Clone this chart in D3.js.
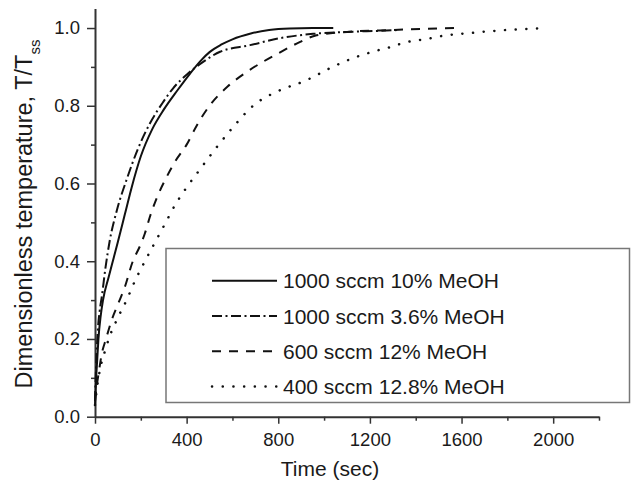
<!DOCTYPE html>
<html>
<head>
<meta charset="utf-8">
<script src="https://cdn.jsdelivr.net/npm/d3@7"></script>
<style>
  body { margin: 0; background: #fff; }
  svg text { font-family: "Liberation Sans", Arial, sans-serif; fill: #1a1a1a; }
</style>
</head>
<body>
<div id="chart"></div>
<script>
// Dimensionless temperature T/Tss vs time (sec)
const solidT = [0, 5, 10, 15, 25, 35, 60, 100, 130, 160, 200, 250, 300, 360, 415, 460, 500, 550, 600, 680, 760, 850, 950, 1040];
const solidV = [0.03, 0.10, 0.15, 0.20, 0.26, 0.30, 0.36, 0.45, 0.52, 0.59, 0.67, 0.74, 0.79, 0.84, 0.883, 0.915, 0.938, 0.957, 0.971, 0.986, 0.995, 0.999, 1.0, 1.0];

const dashDotT = [0, 3, 7, 12, 20, 30, 45, 65, 95, 138, 188, 240, 298, 341, 400, 472, 546, 677, 808, 952, 1100, 1250, 1330];
const dashDotV = [0.04, 0.10, 0.16, 0.22, 0.27, 0.31, 0.38, 0.455, 0.53, 0.61, 0.69, 0.755, 0.81, 0.845, 0.88, 0.913, 0.939, 0.956, 0.974, 0.985, 0.99, 0.993, 0.995];

const dashedT = [0, 8, 18, 29, 48, 73, 102, 131, 165, 197, 218, 240, 269, 306, 349, 400, 445, 500, 580, 670, 800, 880, 960, 1100, 1300, 1450, 1580];
const dashedV = [0.04, 0.08, 0.12, 0.16, 0.20, 0.249, 0.292, 0.335, 0.40, 0.44, 0.472, 0.515, 0.562, 0.609, 0.656, 0.70, 0.75, 0.80, 0.85, 0.89, 0.935, 0.96, 0.98, 0.99, 0.995, 0.998, 1.0];

const dottedT = [0, 10, 25, 44, 60, 100, 138, 175, 218, 254, 300, 350, 400, 450, 488, 540, 610, 690, 800, 924, 968, 1016, 1063, 1111, 1157, 1201, 1249, 1296, 1342, 1390, 1449, 1499, 1546, 1594, 1638, 1686, 1732, 1776, 1822, 1870, 1930];
const dottedV = [0.03, 0.08, 0.13, 0.17, 0.20, 0.255, 0.30, 0.35, 0.40, 0.44, 0.49, 0.545, 0.59, 0.63, 0.66, 0.70, 0.75, 0.80, 0.838, 0.866, 0.879, 0.894, 0.907, 0.919, 0.929, 0.937, 0.945, 0.952, 0.961, 0.967, 0.972, 0.978, 0.982, 0.985, 0.987, 0.99, 0.992, 0.994, 0.996, 0.997, 0.999];

const seriesNames = ["1000 sccm 10% MeOH", "1000 sccm 3.6% MeOH", "600 sccm 12% MeOH", "400 sccm 12.8% MeOH"];
const xMajorTicks = [0, 400, 800, 1200, 1600, 2000];
const yMajorTicks = [0, 0.2, 0.4, 0.6, 0.8, 1.0];

const width = 631, height = 482;
const svg = d3.select("#chart").append("svg").attr("width", width).attr("height", height);

const x = d3.scaleLinear().domain([0, 2200]).range([95, 599]);
const y = d3.scaleLinear().domain([0, 1.05]).range([416.7, 8.6]);

const styles = [
  { dash: null, width: 2, cap: "butt" },
  { dash: "10,3.5,2,3.5", width: 2, cap: "butt" },
  { dash: "9,8", width: 2, cap: "butt" },
  { dash: "0.1,10.6", width: 2.5, cap: "round" }
];

const series = [
  d3.zip(solidT, solidV),
  d3.zip(dashDotT, dashDotV),
  d3.zip(dashedT, dashedV),
  d3.zip(dottedT, dottedV)
];

// axes
const axisColor = "#333";
const xAxis = svg.append("g").attr("transform", `translate(0,${y(0)})`)
  .call(d3.axisBottom(x).tickValues(xMajorTicks).tickSize(7).tickSizeOuter(0).tickFormat(d3.format("d")));
svg.append("g").attr("transform", `translate(0,${y(0)})`)
  .call(d3.axisBottom(x).tickValues(d3.range(200, 2201, 400)).tickSize(4).tickFormat(""))
  .call(g => g.select(".domain").remove());

const yAxis = svg.append("g").attr("transform", `translate(${x(0)},0)`)
  .call(d3.axisLeft(y).tickValues(yMajorTicks).tickSize(8).tickSizeOuter(0).tickFormat(d3.format(".1f")));
svg.append("g").attr("transform", `translate(${x(0)},0)`)
  .call(d3.axisLeft(y).tickValues([0.1, 0.3, 0.5, 0.7, 0.9]).tickSize(4).tickFormat(""))
  .call(g => g.select(".domain").remove());

svg.selectAll(".domain").attr("stroke", axisColor).attr("stroke-width", 2);
svg.selectAll(".tick line").attr("stroke", axisColor).attr("stroke-width", 1.5);
xAxis.selectAll(".tick text").style("font-size", "18.5px").attr("dy", "1.05em");
yAxis.selectAll(".tick text").style("font-size", "18.5px").attr("x", -15);

// axis titles
svg.append("text")
  .attr("x", 330).attr("y", 476)
  .attr("text-anchor", "middle")
  .style("font-size", "21px")
  .text("Time (sec)");

const yTitle = svg.append("text")
  .attr("transform", "translate(32,214) rotate(-90)")
  .attr("text-anchor", "middle")
  .style("font-size", "23.5px");
yTitle.append("tspan").text("Dimensionless temperature, T/T");
yTitle.append("tspan").attr("dy", 8).style("font-size", "15px").text("ss");

// curves
const line = d3.line().x(d => x(d[0])).y(d => y(d[1])).curve(d3.curveMonotoneX);
series.forEach((s, i) => {
  svg.append("path")
    .datum(s)
    .attr("d", line)
    .attr("fill", "none")
    .attr("stroke", "#111")
    .attr("stroke-width", styles[i].width)
    .attr("stroke-linecap", styles[i].cap)
    .attr("stroke-dasharray", styles[i].dash);
});

// legend
const legend = svg.append("g");
legend.append("rect")
  .attr("x", 166).attr("y", 248.5).attr("width", 463.5).attr("height", 154)
  .attr("fill", "#fff").attr("stroke", "#777").attr("stroke-width", 1.5);

seriesNames.forEach((name, i) => {
  const ly = 280.7 + i * 35.3;
  legend.append("line")
    .attr("x1", 212).attr("x2", 277).attr("y1", ly).attr("y2", ly)
    .attr("stroke", "#111")
    .attr("stroke-width", styles[i].width)
    .attr("stroke-linecap", styles[i].cap)
    .attr("stroke-dasharray", styles[i].dash);
  legend.append("text")
    .attr("x", 283).attr("y", ly + 7.5)
    .style("font-size", "21px")
    .text(name);
});
</script>
</body>
</html>
